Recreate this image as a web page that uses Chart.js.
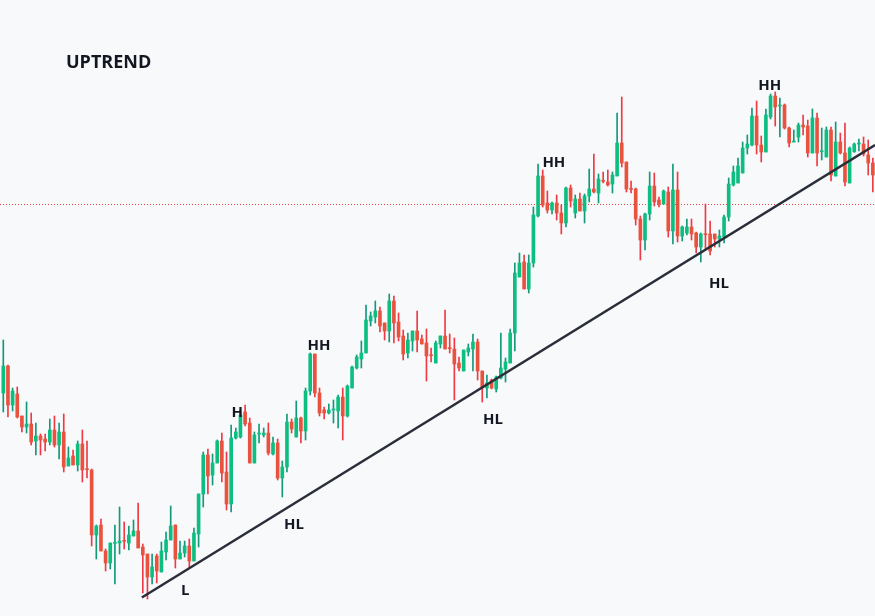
<!DOCTYPE html>
<html>
<head>
<meta charset="utf-8">
<script src="https://cdn.jsdelivr.net/npm/chart.js@4"></script>
<style>
  html, body { margin: 0; padding: 0; background: #f8f9fb; }
  #chart { display: block; }
</style>
</head>
<body>
<canvas id="chart" width="875" height="616"></canvas>
<script>
// OHLC per candle, price units
const opens = [
  223, 250, 211, 222, 200, 189, 192, 175, 180, 177,
  174, 186, 171, 184, 150, 160, 151, 172, 147, 146,
  81, 91, 65, 53, 72.7, 73, 75.3, 73, 80, 85,
  69, 62, 39, 60, 44, 64, 76, 91, 57, 63,
  70, 55, 82, 122, 161, 141, 153, 175, 144, 112,
  178, 179, 204, 193, 153, 182, 181, 183, 162, 173,
  138, 149, 194, 179, 198, 185, 225, 262, 223, 206,
  203, 206, 205, 219, 200, 228, 248, 257, 263, 295,
  299, 305, 293, 285, 315, 294, 280, 263, 275, 285,
  277, 273, 261, 253, 272, 280, 268, 267, 253, 245,
  264, 267, 274, 245, 228, 236, 227, 238, 247, 253,
  283, 339, 354, 327, 353, 400, 440, 413, 406, 413,
  403, 393, 428, 403, 417, 405, 420, 427, 423, 435.3,
  434, 432, 440, 473, 454, 427, 427, 397, 376, 402,
  430, 416, 412, 424, 385, 426, 380, 383, 389, 383,
  369, 382, 382, 382, 377, 379, 399, 431, 433, 443,
  468, 471, 500, 471, 464, 499, 520, 510, 511, 488,
  474, 479, 491, 490, 463, 498, 464.3, 459, 486, 440,
  474, 463, 433, 464, 472, 472, 461, 453
];
const highs = [
  276, 251, 228, 229, 200, 214, 203, 193, 182, 182,
  197, 200, 193, 202, 169, 166, 175, 186, 175, 147,
  91, 97, 67, 73, 91, 109, 94, 90, 96, 113,
  72, 62, 62, 62, 74, 84, 110, 91, 75, 75,
  77, 88, 122, 164, 167, 162, 176, 183, 164, 191,
  188, 206, 211, 198, 184, 192, 188, 193, 179, 177,
  155, 202, 197, 215, 199, 228, 263, 262, 228, 209,
  212, 216, 221, 228, 231, 250, 261, 275, 311, 304,
  315, 309, 293, 322, 320, 303, 286, 283, 285, 305,
  281, 287, 268, 275, 280, 306, 282, 278, 259, 266,
  272, 282, 277, 245, 241, 237, 240, 283, 258, 287,
  353, 363, 361, 361, 409, 452, 446, 425, 414, 421,
  411, 429, 431, 421, 423, 422, 447, 462, 442, 444,
  446, 444, 503, 519, 454, 435, 428, 400, 403, 444,
  443, 419, 426, 429, 452, 444, 390, 397, 397, 384,
  383, 412, 395, 382, 386, 401, 438, 450, 458, 474,
  481, 508, 515, 480, 507, 522, 524, 518, 512, 489,
  486, 493, 501, 496, 507, 503, 488, 489, 489, 494,
  483, 493, 469, 473, 477, 479, 476, 458
];
const lows = [
  204, 199, 205, 198, 184, 183, 171, 161, 161, 165,
  171, 169, 157, 144, 150, 151, 145, 134, 138, 70,
  57, 65, 45, 47, 32, 62, 67, 66, 80, 68,
  23, 17, 32, 33, 44, 56, 76, 48, 57, 59,
  48, 55, 69, 109, 122, 131, 153, 134, 106, 104,
  177, 178, 190, 153, 153, 173, 179, 161, 161, 136,
  119, 144, 183, 179, 173, 176, 221, 219, 200, 197,
  202, 193, 188, 176, 199, 228, 247, 248, 263, 290,
  293, 284, 276, 274, 273, 275, 256, 258, 265, 264,
  272, 235, 254, 253, 268, 267, 263, 216, 245, 245,
  260, 245, 236, 214, 218, 227, 224, 237, 234, 253,
  265, 339, 327, 323, 349, 399, 409, 403, 402, 396,
  382, 389, 409, 398, 405, 393, 414, 423, 413, 433,
  430, 423, 440, 449, 424, 423, 391, 356, 366, 396,
  410, 409, 412, 379, 372, 374, 375, 381, 376, 363,
  354, 367, 361, 369, 369, 373, 395, 430, 433, 443,
  462, 470, 462, 454, 464, 497, 490, 479, 487, 469,
  474, 474, 481, 459, 463, 450, 456, 459, 435, 440,
  462, 430, 433, 464, 465, 460, 441, 424
];
const closes = [
  250, 211, 225, 199, 189, 192, 174, 180, 176, 174,
  186, 171, 184, 149, 158, 151, 172, 146, 146.3, 81,
  90, 65, 53, 73, 73.3, 75, 74.7, 81, 85, 68,
  61, 39, 49, 45, 65, 76, 90, 57, 63, 70,
  55, 83, 122, 161, 140, 153, 175, 143, 112, 178,
  184, 201, 192, 153, 181, 183, 183, 163, 173, 138,
  149, 194, 187, 198, 185, 225, 262, 223, 203, 203,
  206, 206.6, 219, 200, 230, 249, 259, 263, 296, 300,
  305, 290, 285, 315, 293, 279, 262, 276, 285, 276,
  272, 260, 260.3, 273, 280, 267, 267.3, 252, 248, 266,
  268, 274, 245, 228, 233, 228, 239, 248, 254, 283,
  343, 353, 327, 353, 401, 440, 411, 406, 413, 403,
  393, 428, 415, 417, 405, 420, 427, 424, 437, 434.7,
  431, 441, 473, 453, 427, 426.5, 397, 376, 402, 430,
  414, 412, 425, 385, 426, 380, 389, 389, 382, 369,
  382, 381.3, 365, 377, 380, 399, 432, 444, 450, 468,
  472, 500, 471, 464, 501, 520, 509, 511, 488, 473,
  475, 491, 489, 463, 498, 463, 465, 486, 441, 474,
  463, 434, 468, 472, 472.7, 462, 453, 441
];

// trend line (candle index, price) and resistance level
const trendX = [29.8, 187.46];
const trendY = [18.5, 471];
const levelPrice = 411.5;

// swing labels
const swingText = ['L', 'HL', 'H', 'HH', 'HL', 'HH', 'HL', 'HH'];
const swingIndex = [39.1, 62.5, 50.3, 67.9, 105.3, 118.4, 153.9, 164.8];
const swingPrice = [25.5, 91.5, 203, 270, 196, 453, 332, 530];

const upBody = '#0cbf80', upWick = '#12997a';
const downBody = '#e8523f', downWick = '#ee3a44';

const wicks = [], bodies = [], wickColors = [], bodyColors = [];
for (let i = 0; i < opens.length; i++) {
  let up = closes[i] >= opens[i];
  wicks.push({ x: i, y: [lows[i], highs[i]] });
  bodies.push({ x: i, y: [opens[i], closes[i]] });
  wickColors.push(up ? upWick : downWick);
  bodyColors.push(up ? upBody : downBody);
}

const xMin = -0.71, xMax = 187.46;

const labelsPlugin = {
  id: 'swingLabels',
  afterDatasetsDraw(chart) {
    const { ctx, scales: { x, y } } = chart;
    ctx.save();
    ctx.fillStyle = '#131722';
    ctx.font = 'bold 18px "Open Sans"';
    ctx.textAlign = 'left';
    ctx.textBaseline = 'alphabetic';
    ctx.fillText('UPTREND', 66, 68);
    ctx.font = 'bold 15px "Open Sans"';
    ctx.textAlign = 'center';
    ctx.textBaseline = 'middle';
    for (let k = 0; k < swingText.length; k++) {
      ctx.fillText(swingText[k], x.getPixelForValue(swingIndex[k]), y.getPixelForValue(swingPrice[k]));
    }
    ctx.restore();
  }
};

new Chart(document.getElementById('chart'), {
  type: 'bar',
  data: {
    datasets: [
      {
        type: 'line',
        data: [{ x: xMin, y: levelPrice }, { x: xMax, y: levelPrice }],
        borderColor: '#e8453c',
        borderWidth: 1,
        borderDash: [1, 2],
        pointRadius: 0,
        order: 4
      },
      {
        data: wicks,
        backgroundColor: wickColors,
        barThickness: 1,
        grouped: false,
        order: 3
      },
      {
        data: bodies,
        backgroundColor: bodyColors,
        barThickness: 3,
        minBarLength: 1,
        grouped: false,
        order: 2
      },
      {
        type: 'line',
        data: [{ x: trendX[0], y: trendY[0] }, { x: trendX[1], y: trendY[1] }],
        borderColor: '#2a2e39',
        borderWidth: 2.5,
        pointRadius: 0,
        order: 1
      }
    ]
  },
  options: {
    responsive: false,
    animation: false,
    layout: { padding: 0 },
    scales: {
      x: { type: 'linear', min: xMin, max: xMax, offset: false, display: false },
      y: { type: 'linear', min: 0, max: 616, display: false }
    },
    plugins: {
      legend: { display: false },
      tooltip: { enabled: false }
    }
  },
  plugins: [labelsPlugin]
});
</script>
</body>
</html>
